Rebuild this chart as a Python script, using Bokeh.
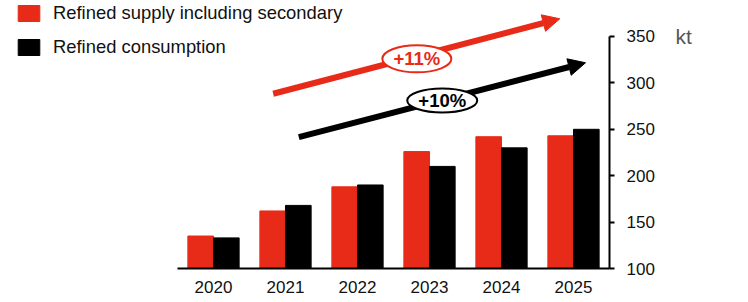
from bokeh.plotting import figure
from bokeh.models import (ColumnDataSource, LinearAxis, FixedTicker, Range1d, Arrow,
                          NormalHead, Label, Legend, LegendItem)
from bokeh.transform import dodge
from bokeh.embed import file_html
from bokeh.resources import INLINE

# ---- data ----
years = [2020, 2021, 2022, 2023, 2024, 2025]
refined_supply = [135, 162, 188, 226, 242, 243]
refined_consumption = [133, 168, 190, 210, 230, 250]
y_ticks = [100, 150, 200, 250, 300, 350]
series_names = ["Refined supply including secondary", "Refined consumption"]
growth_labels = ["+11%", "+10%"]
unit_label = "kt"

RED = "#E82A18"
BLACK = "#000000"
FONT = "Liberation Sans"

src = ColumnDataSource(dict(year=years, supply=refined_supply, cons=refined_consumption))

p = figure(frame_width=609, frame_height=268,
           x_range=Range1d(2017.0417, 2025.5), y_range=Range1d(100, 388.79),
           x_axis_location=None, y_axis_location=None,
           toolbar_location=None, output_backend="svg",
           min_border_left=0, min_border_top=0, min_border_right=130, min_border_bottom=30)
p.outline_line_color = None
p.xgrid.visible = False
p.ygrid.visible = False
p.background_fill_color = "white"
p.border_fill_color = "white"

r1 = p.vbar(x=dodge("year", -0.178, range=p.x_range), top="supply", bottom=100, width=0.356,
            source=src, fill_color=RED, line_color=RED)
r2 = p.vbar(x=dodge("year", 0.178, range=p.x_range), top="cons", bottom=100, width=0.356,
            source=src, fill_color=BLACK, line_color=BLACK)

# x axis
xax = LinearAxis(ticker=FixedTicker(ticks=years), bounds=(2019.5, 2025.5))
xax.major_label_overrides = {y: str(y) for y in years}
xax.major_tick_line_color = None
xax.minor_tick_line_color = None
xax.axis_line_width = 2
xax.axis_line_color = BLACK
xax.major_label_standoff = 6
xax.major_label_text_font = FONT
xax.major_label_text_font_size = "17px"
xax.major_label_text_color = "#111111"
p.add_layout(xax, "below")

# y axis on the right
yax = LinearAxis(ticker=FixedTicker(ticks=y_ticks), bounds=(100, 350))
yax.major_tick_out = 5
yax.major_tick_in = 0
yax.major_tick_line_width = 2
yax.minor_tick_line_color = None
yax.axis_line_width = 2
yax.axis_line_color = BLACK
yax.major_label_standoff = 12
yax.major_label_text_font = FONT
yax.major_label_text_font_size = "17px"
yax.major_label_text_color = "#111111"
p.add_layout(yax, "right")

# unit label as a second (label-only) axis
uax = LinearAxis(ticker=FixedTicker(ticks=[y_ticks[-1]]))
uax.major_label_overrides = {y_ticks[-1]: unit_label}
uax.axis_line_color = None
uax.major_tick_line_color = None
uax.minor_tick_line_color = None
uax.major_tick_out = 0
uax.major_tick_in = 0
uax.major_label_standoff = 18
uax.major_label_text_font = FONT
uax.major_label_text_font_size = "21px"
uax.major_label_text_color = "#555555"
p.add_layout(uax, "right")

# growth arrows
a1 = Arrow(end=NormalHead(size=17, fill_color=RED, line_color=RED),
           x_start=2020.829, y_start=288.3, x_end=2024.81, y_end=369.1,
           line_color=RED, line_width=6, level="underlay")
a2 = Arrow(end=NormalHead(size=17, fill_color=BLACK, line_color=BLACK),
           x_start=2021.185, y_start=241.5, x_end=2025.167, y_end=321.7,
           line_color=BLACK, line_width=6, level="underlay")
p.add_layout(a1)
p.add_layout(a2)

p.ellipse(x=[2022.824], y=[326], width=69, height=27, width_units="screen", height_units="screen",
          fill_color="white", line_color=RED, line_width=2)
p.ellipse(x=[2023.177], y=[281], width=70, height=24, width_units="screen", height_units="screen",
          fill_color="white", line_color=BLACK, line_width=2)
p.add_layout(Label(x=2022.824, y=326, text=growth_labels[0], text_font=FONT, text_font_size="18.5px",
                   text_font_style="bold", text_color=RED, text_align="center", text_baseline="middle"))
p.add_layout(Label(x=2023.177, y=281, text=growth_labels[1], text_font=FONT, text_font_size="18.5px",
                   text_font_style="bold", text_color=BLACK, text_align="center", text_baseline="middle"))

legend = Legend(items=[LegendItem(label=series_names[0], renderers=[r1]),
                       LegendItem(label=series_names[1], renderers=[r2])],
                location=(15, 210), orientation="vertical")
legend.glyph_width = 27
legend.glyph_height = 20
legend.label_height = 20
legend.label_standoff = 11
legend.spacing = 12
legend.padding = 0
legend.margin = 0
legend.border_line_color = None
legend.background_fill_alpha = 0
legend.label_text_font = FONT
legend.label_text_font_size = "18.4px"
legend.label_text_color = "#111111"
p.add_layout(legend, "center")

open("out.html", "w").write(file_html(p, INLINE))
